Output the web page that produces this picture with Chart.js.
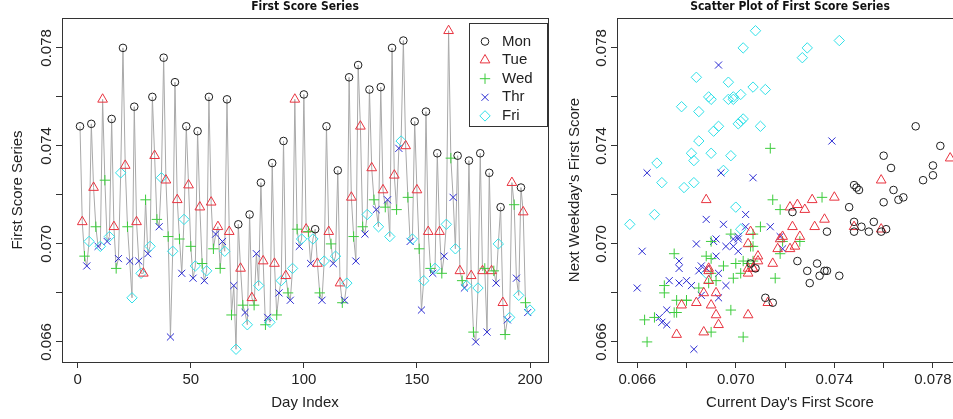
<!DOCTYPE html>
<html>
<head>
<meta charset="utf-8">
<script src="https://cdn.jsdelivr.net/npm/chart.js@4.4.0/dist/chart.umd.min.js"></script>
<style>
html, body { margin: 0; padding: 0; background: #fff; overflow: hidden; width: 953px; height: 419px; }
canvas { position: absolute; top: 0; }
#left { left: 0; }
#right { left: 555px; }
</style>
</head>
<body>
<canvas id="left" width="560" height="419" style="width:560px;height:419px"></canvas>
<canvas id="right" width="420" height="419" style="width:420px;height:419px"></canvas>
<script>
// weekday of each trading day (0 = Mon ... 4 = Fri), holidays are simply missing
const dayNames = ['Mon', 'Tue', 'Wed', 'Thr', 'Fri'];
const weekday = [
    0,1,2,3,4, 0,1,2,3,4, 1,2,3,4, 0,1,2,3,4, 0,1,2,3,4, 0,1,3,4, 1,2,3,4,
    0,1,2,3,4, 0,1,2,3,4, 0,1,2,3,4, 0,1,2,3,4, 0,1,2,3,4, 0,1,2,3, 1,2,3,4,
    0,1,2,3,4, 0,1,2,3,4, 0,1,2,3,4, 0,1,2,3,4, 0,1,2,3,4, 0,1,2,3,4, 1,2,3,4,
    0,1,2,3,4, 0,1,2,3,4, 0,1,2,3,4, 0,1,2,3,4, 0,1,2,3, 0,1,2,3,4, 0,1,2,3,4,
    0,1,2,3,4, 0,1,2,3,4, 0,1,2,3,4, 0,1,2,3,4, 0,1,2,3,4, 0,1,2,3,4, 1,2,3,4,
    0,1,2,3,4, 0,1,2,3,4, 0,1,2,3, 0,1,2,3,4, 0,1,2,3,4, 1,2,3,4, 0,1,2,3,4
];
const firstScore = [
    0.0748,0.0709,0.0695,0.0691,0.0701, 0.0749,0.0723,0.0707,0.0699,0.0699,
    0.0759,0.0726,0.0701,0.0703, 0.0751,0.0707,0.0690,0.0694,0.0729,
    0.0780,0.0732,0.0707,0.0693,0.0678, 0.0756,0.0709,0.0693,0.0688,
    0.0688,0.0718,0.0696,0.0699,
    0.0760,0.0736,0.0710,0.0707,0.0727, 0.0776,0.0726,0.0703,0.0662,0.0697,
    0.0766,0.0718,0.0702,0.0688,0.0710, 0.0748,0.0724,0.0699,0.0686,0.0691,
    0.0746,0.0715,0.0692,0.0685,0.0689, 0.0760,0.0717,0.0698,0.0704,
    0.0707,0.0690,0.0701,0.0697,
    0.0759,0.0705,0.0671,0.0683,0.0657, 0.0708,0.0690,0.0675,0.0672,0.0667,
    0.0712,0.0678,0.0675,0.0696,0.0683, 0.0725,0.0693,0.0667,0.0670,0.0668,
    0.0733,0.0692,0.0671,0.0680,0.0685, 0.0742,0.0687,0.0680,0.0677,0.0690,
    0.0759,0.0706,0.0699,0.0702,
    0.0761,0.0706,0.0705,0.0692,0.0702, 0.0706,0.0692,0.0680,0.0677,0.0693,
    0.0748,0.0705,0.0700,0.0692,0.0695, 0.0730,0.0684,0.0676,0.0677,0.0684,
    0.0768,0.0719,0.0703,0.0693, 0.0773,0.0748,0.0707,0.0704,0.0712,
    0.0763,0.0731,0.0718,0.0714,0.0707,
    0.0764,0.0722,0.0715,0.0718,0.0703, 0.0780,0.0728,0.0714,0.0739,0.0742,
    0.0783,0.0740,0.0719,0.0701,0.0702, 0.0750,0.0722,0.0698,0.0673,0.0685,
    0.0754,0.0705,0.0690,0.0688,0.0690, 0.0737,0.0705,0.0688,0.0695,0.0708,
    0.0787,0.0735,0.0719,0.0698,
    0.0736,0.0689,0.0685,0.0682,0.0683, 0.0734,0.0687,0.0664,0.0660,0.0682,
    0.0737,0.0689,0.0690,0.0664, 0.0729,0.0689,0.0689,0.0684,0.0700,
    0.0715,0.0676,0.0663,0.0669,0.0670, 0.0725,0.0716,0.0686,0.0679,
    0.0723,0.0713,0.0676,0.0672,0.0673
];
const dayIndex = firstScore.map((v, i) => i + 1);
const dayTicks = [0, 50, 100, 150, 200];
const scoreTicks = [0.066, 0.068, 0.070, 0.072, 0.074, 0.076, 0.078];
const scoreLabels = ['0.066', '0.070', '0.074', '0.078'];

const dayColors = ['#1e1e1e', '#e8333f', '#3dcc3d', '#2a2ad2', '#2fe0e8'];
const dayStyles = ['circle', 'triangle', 'cross', 'crossRot', 'rectRot'];
const dayRadius = [3.8, 5.6, 5.2, 5.0, 5.2];

const sansFont = "'Liberation Sans', Arial, sans-serif";
const titleFont = { family: "'Liberation Sans Narrow', 'DejaVu Sans Condensed', sans-serif", size: 12, weight: 'bold' };
const labelFont = { family: sansFont, size: 15 };

function paddedRange(vals) {
    const lo = Math.min(...vals), hi = Math.max(...vals), pad = (hi - lo) * 0.04;
    return [lo - pad, hi + pad];
}

// box round the plot region, like R's box()
const framePlugin = {
    id: 'frame',
    afterDraw(chart) {
        const a = chart.chartArea, ctx = chart.ctx;
        ctx.save();
        ctx.strokeStyle = '#333';
        ctx.lineWidth = 1;
        ctx.strokeRect(Math.round(a.left) + 0.5, Math.round(a.top) + 0.5,
            Math.round(a.right - a.left), Math.round(a.bottom - a.top));
        ctx.restore();
    }
};

// y tick labels written parallel to the axis
const yLabelPlugin = {
    id: 'yLabels',
    afterDraw(chart) {
        const s = chart.scales.y, ctx = chart.ctx;
        ctx.save();
        ctx.font = `${labelFont.size}px ${sansFont}`;
        ctx.fillStyle = '#222';
        ctx.textAlign = 'center';
        ctx.textBaseline = 'middle';
        scoreLabels.forEach(lab => {
            const y = s.getPixelForValue(parseFloat(lab));
            ctx.save();
            ctx.translate(s.right - 15, y);
            ctx.rotate(-Math.PI / 2);
            ctx.fillText(lab, 0, 0);
            ctx.restore();
        });
        ctx.restore();
    }
};

function drawSymbol(ctx, style, x, y, r) {
    ctx.beginPath();
    if (style === 'circle') {
        ctx.arc(x, y, r, 0, Math.PI * 2);
    } else if (style === 'triangle') {
        ctx.moveTo(x, y - r);
        ctx.lineTo(x + r * 0.866, y + r * 0.5);
        ctx.lineTo(x - r * 0.866, y + r * 0.5);
        ctx.closePath();
    } else if (style === 'cross') {
        ctx.moveTo(x - r, y); ctx.lineTo(x + r, y);
        ctx.moveTo(x, y - r); ctx.lineTo(x, y + r);
    } else if (style === 'crossRot') {
        const d = r * 0.7071;
        ctx.moveTo(x - d, y - d); ctx.lineTo(x + d, y + d);
        ctx.moveTo(x - d, y + d); ctx.lineTo(x + d, y - d);
    } else {
        ctx.moveTo(x, y - r); ctx.lineTo(x + r, y);
        ctx.lineTo(x, y + r); ctx.lineTo(x - r, y);
        ctx.closePath();
    }
    ctx.stroke();
}

const legendPlugin = {
    id: 'dayLegend',
    afterDraw(chart) {
        const a = chart.chartArea, ctx = chart.ctx;
        const w = 78, h = 103;
        const left = Math.round(a.right) - 1 - w, top = Math.round(a.top) + 5;
        ctx.save();
        ctx.fillStyle = '#fff';
        ctx.fillRect(left, top, w, h);
        ctx.strokeStyle = '#333';
        ctx.lineWidth = 1;
        ctx.strokeRect(left + 0.5, top + 0.5, w, h);
        ctx.font = `${labelFont.size}px ${sansFont}`;
        ctx.textBaseline = 'middle';
        ctx.textAlign = 'left';
        dayNames.forEach((name, i) => {
            const y = top + 18.5 + i * 18.6;
            ctx.strokeStyle = dayColors[i];
            drawSymbol(ctx, dayStyles[i], left + 16, y, dayRadius[i]);
            ctx.fillStyle = '#222';
            ctx.fillText(name, left + 33, y);
        });
        ctx.restore();
    }
};

const [scoreMin, scoreMax] = paddedRange(firstScore);
const [dayMin, dayMax] = paddedRange(dayIndex);

function axisCommon() {
    return {
        grid: { drawOnChartArea: false, tickLength: 6, color: '#333' },
        border: { color: '#333' }
    };
}

new Chart(document.getElementById('left'), {
    type: 'line',
    data: {
        datasets: [{
            data: firstScore.map((v, i) => ({ x: dayIndex[i], y: v })),
            borderColor: '#a9a9a9',
            borderWidth: 1,
            tension: 0,
            pointStyle: c => dayStyles[weekday[c.dataIndex]],
            pointRadius: c => dayRadius[weekday[c.dataIndex]],
            pointBorderColor: c => dayColors[weekday[c.dataIndex]],
            pointBackgroundColor: 'rgba(0,0,0,0)',
            pointBorderWidth: 1
        }]
    },
    options: {
        responsive: false,
        animation: false,
        layout: { padding: { left: 0, right: 12, top: 0, bottom: 0 } },
        plugins: {
            legend: { display: false },
            tooltip: { enabled: false },
            title: {
                display: true, text: 'First Score Series', fullSize: false,
                font: titleFont, color: '#111', padding: { top: 0, bottom: 3.6 }
            }
        },
        scales: {
            x: {
                type: 'linear', min: dayMin, max: dayMax,
                afterBuildTicks: s => { s.ticks = dayTicks.map(v => ({ value: v })); },
                afterFit: s => { s.height = 57; },
                ...axisCommon(),
                ticks: { font: labelFont, color: '#222', padding: 3, maxRotation: 0, autoSkip: false },
                title: { display: true, text: 'Day Index', font: labelFont, color: '#222', padding: { top: 0, bottom: 7 } }
            },
            y: {
                type: 'linear', min: scoreMin, max: scoreMax,
                afterBuildTicks: s => { s.ticks = scoreTicks.map(v => ({ value: v })); },
                afterFit: s => { s.width = 62; },
                ...axisCommon(),
                ticks: { callback: () => '' },
                title: { display: true, text: 'First Score Series', font: labelFont, color: '#222', padding: { top: 9, bottom: 0 } }
            }
        }
    },
    plugins: [framePlugin, yLabelPlugin, legendPlugin]
});

// scatter: each day against the following trading day, coloured by the current day
const currentScore = firstScore.slice(0, -1);
const nextScore = firstScore.slice(1);
const [curMin, curMax] = paddedRange(currentScore);
const [nextMin, nextMax] = paddedRange(nextScore);

new Chart(document.getElementById('right'), {
    type: 'scatter',
    data: {
        datasets: dayNames.map((name, d) => ({
            label: name,
            data: currentScore.map((v, i) => ({ x: v, y: nextScore[i], d: weekday[i] })).filter(p => p.d === d),
            pointStyle: dayStyles[d],
            pointRadius: dayRadius[d],
            pointBorderColor: dayColors[d],
            pointBackgroundColor: 'rgba(0,0,0,0)',
            pointBorderWidth: 1
        }))
    },
    options: {
        responsive: false,
        animation: false,
        layout: { padding: { left: 0, right: 12, top: 0, bottom: 0 } },
        plugins: {
            legend: { display: false },
            tooltip: { enabled: false },
            title: {
                display: true, text: 'Scatter Plot of First Score Series', fullSize: false,
                font: titleFont, color: '#111', padding: { top: 0, bottom: 3.6 }
            }
        },
        scales: {
            x: {
                type: 'linear', min: curMin, max: curMax,
                afterBuildTicks: s => { s.ticks = scoreTicks.map(v => ({ value: v })); },
                afterFit: s => { s.height = 57; },
                ...axisCommon(),
                ticks: {
                    font: labelFont, color: '#222', padding: 3, maxRotation: 0, autoSkip: false,
                    callback: v => { const lab = v.toFixed(3); return scoreLabels.includes(lab) ? lab : ''; }
                },
                title: { display: true, text: "Current Day's First Score", font: labelFont, color: '#222', padding: { top: 0, bottom: 7 } }
            },
            y: {
                type: 'linear', min: nextMin, max: nextMax,
                afterBuildTicks: s => { s.ticks = scoreTicks.map(v => ({ value: v })); },
                afterFit: s => { s.width = 62; },
                ...axisCommon(),
                ticks: { callback: () => '' },
                title: { display: true, text: "Next Weekday's First Score", font: labelFont, color: '#222', padding: { top: 11, bottom: 0 } }
            }
        }
    },
    plugins: [framePlugin, yLabelPlugin]
});
</script>
</body>
</html>
